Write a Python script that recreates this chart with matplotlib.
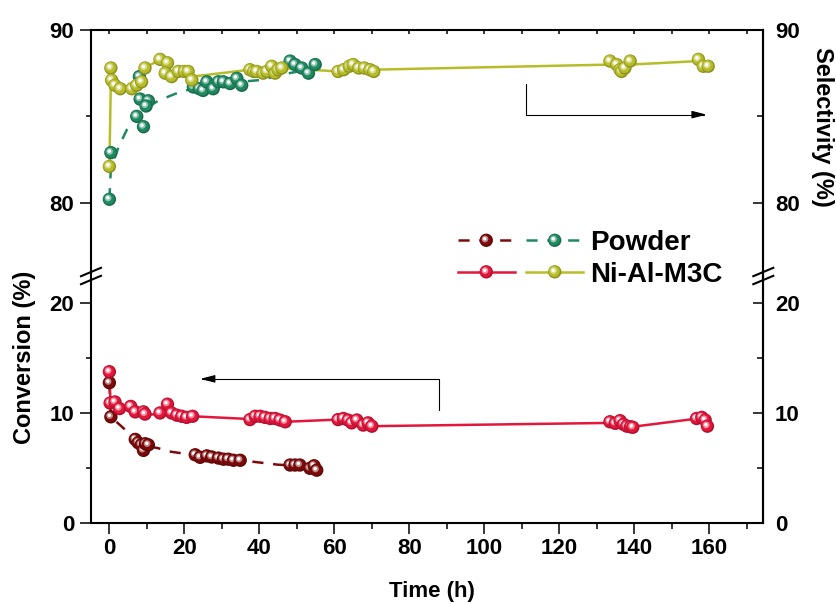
import numpy as np
import matplotlib
matplotlib.use('Agg')
import matplotlib.pyplot as plt
from matplotlib.patheffects import AbstractPathEffect
from matplotlib.transforms import Affine2D
from matplotlib.lines import Line2D
from matplotlib.legend_handler import HandlerTuple
from matplotlib.colors import to_rgb

plt.rcParams['font.family'] = ['Liberation Sans', 'DejaVu Sans']
plt.rcParams['font.weight'] = 'bold'
plt.rcParams['lines.scale_dashes'] = False

# ---------------- data ----------------
# Ni-Al-M3C selectivity (%)
nam_sel_t = [0, 0.4, 0.6, 1.5, 2.9, 6.0, 7.3, 8.6, 9.5, 13.5, 15.5, 14.9, 16.6, 18.4, 20.0, 21.0, 22.0,
             37.5, 38.5, 39.3, 41.0, 42.0, 43.3, 44.2, 45.0, 46.0,
             61.0, 62.5, 64.0, 65.0, 66.5, 68.0, 69.5, 70.5,
             133.5, 135.3, 136.2, 136.6, 137.5, 138.9, 157.1, 158.4, 159.7]
nam_sel_v = [82.1, 87.8, 87.1, 86.8, 86.6, 86.6, 86.8, 87.0, 87.8, 88.3, 88.1, 87.5, 87.3, 87.6, 87.6, 87.6, 87.1,
             87.7, 87.6, 87.6, 87.5, 87.6, 87.9, 87.5, 87.7, 87.8,
             87.6, 87.7, 87.9, 88.0, 87.8, 87.8, 87.7, 87.6,
             88.2, 88.0, 87.7, 87.6, 87.8, 88.2, 88.3, 87.9, 87.9]
nam_sel_line_t = [0, 0.4, 2.9, 6.0, 8.6, 9.5, 13.5, 15.5, 16.6, 21, 22, 37.5, 46, 61, 70, 134, 139, 157, 160]
nam_sel_line_v = [82.1, 87.1, 86.6, 86.6, 87.0, 87.8, 88.3, 88.1, 87.5, 87.6, 87.3, 87.7, 87.8, 87.6, 87.7,
                  88.0, 88.0, 88.2, 88.0]

# Powder selectivity (%)
pow_sel_t = [0, 0.4, 7.3, 9.1, 8.2, 10.4, 9.8, 8.0, 22.4, 24.0, 25.0, 26.0, 27.7, 29.1, 30.4, 32.2, 34.0, 35.3,
             48.2, 49.5, 51.3, 53.1, 54.9]
pow_sel_v = [80.2, 82.9, 85.0, 84.4, 86.0, 85.9, 85.6, 87.3, 86.7, 86.6, 86.5, 87.0, 86.6, 87.0, 87.0, 86.9,
             87.2, 86.8, 88.2, 88.0, 87.8, 87.5, 88.0]
pow_sel_line_t = [0, 0.4, 2.4, 4.6, 7, 10, 13, 17.5, 22, 28, 35, 40, 48, 55]
pow_sel_line_v = [80.2, 82.0, 83.2, 84.2, 84.9, 85.5, 85.9, 86.3, 86.6, 86.8, 87.0, 87.1, 87.5, 87.8]

# Ni-Al-M3C conversion (%)
nam_conv_t = [0, 0.2, 1.5, 2.7, 5.7, 6.9, 9.1, 9.5, 13.5, 15.5, 16.6, 18.0, 19.3, 20.6, 22.2,
              37.5, 38.9, 40.2, 41.5, 42.9, 44.2, 45.5, 46.9,
              61.0, 62.4, 63.7, 64.6, 66.0, 67.7, 69.0, 70.0,
              133.5, 134.9, 136.2, 137.1, 138.0, 139.0, 139.6, 156.6, 158.0, 158.9, 159.5]
nam_conv_v = [13.75, 10.9, 11.0, 10.4, 10.6, 10.1, 10.1, 9.9, 10.0, 10.8, 10.0, 9.8, 9.7, 9.6, 9.7,
              9.4, 9.7, 9.7, 9.6, 9.5, 9.5, 9.36, 9.2,
              9.4, 9.5, 9.35, 9.1, 9.36, 8.9, 9.1, 8.8,
              9.2, 9.06, 9.3, 8.97, 8.8, 8.75, 8.7, 9.5, 9.6, 9.36, 8.8]
nam_conv_line_t = [0, 0.3, 2.7, 9.5, 22.2, 37.5, 46.9, 61, 70, 134, 139.6, 157, 160]
nam_conv_line_v = [13.75, 10.9, 10.4, 9.9, 9.7, 9.45, 9.2, 9.4, 8.8, 9.1, 8.75, 9.5, 8.8]

# Powder conversion (%)
pow_conv_t = [0, 0.4, 6.9, 7.7, 8.5, 9.1, 9.6, 10.4, 22.9, 24.2, 26.0, 27.3, 29.1, 30.4, 31.7, 33.1, 34.9,
              48.2, 49.5, 50.8, 53.5, 54.6, 55.3]
pow_conv_v = [12.75, 9.65, 7.6, 7.3, 7.1, 6.6, 7.2, 7.1, 6.2, 5.97, 6.1, 6.0, 5.9, 5.8, 5.8, 5.7, 5.7,
              5.27, 5.27, 5.27, 4.97, 5.2, 4.8]
pow_conv_line_t = [0, 0.4, 3.5, 7, 10, 13, 16, 20, 25, 30, 35, 40, 45, 50, 55]
pow_conv_line_v = [12.75, 9.65, 8.7, 7.6, 7.0, 6.8, 6.5, 6.3, 6.1, 5.9, 5.7, 5.5, 5.3, 5.2, 5.0]

x_ticks = [0, 20, 40, 60, 80, 100, 120, 140, 160]
legend_labels = ['Powder', 'Ni-Al-M3C']

# ---------------- style ----------------
C_DR = '#7d0a0a'
C_GR = '#1f8a62'
C_RD = '#e3163c'
C_YG = '#b6bd28'


class Sphere(AbstractPathEffect):
    """Draw markers as shaded balls with a highlight."""
    def __init__(self, color):
        super().__init__()
        c = np.array(to_rgb(color))
        self.layers = [
            (1.0, 0.0, 0.0, tuple(c * 0.78)),
            (0.84, -0.35, 0.35, tuple(c)),
            (0.5, -0.9, 0.9, tuple(c + (1 - c) * 0.5)),
            (0.26, -1.1, 1.1, (1.0, 1.0, 1.0)),
        ]

    def draw_path(self, renderer, gc, tpath, affine, rgbFace=None):
        if rgbFace is None:
            renderer.draw_path(gc, tpath, affine, rgbFace)
            return
        cx, cy = affine.transform((0.0, 0.0))
        px = renderer.points_to_pixels(1.0)
        gc0 = renderer.new_gc()
        gc0.copy_properties(gc)
        gc0.set_linewidth(0)
        for s, dx, dy, col in self.layers:
            aff = affine + Affine2D().translate(-cx, -cy).scale(s).translate(cx + dx * px, cy + dy * px)
            renderer.draw_path(gc0, tpath, aff, col)
        gc0.restore()


W, H = 837, 604
fig = plt.figure(figsize=(W / 100, H / 100), dpi=100)
L, R = 91 / W, 763.3 / W
yb0 = 1 - 523 / H
ybrk = 1 - 277 / H
yt1 = 1 - 30 / H
axb = fig.add_axes([L, yb0, R - L, ybrk - yb0])
axt = fig.add_axes([L, ybrk, R - L, yt1 - ybrk])

XLIM = (-4.9, 174.4)
for a in (axb, axt):
    a.set_xlim(*XLIM)
    for s in a.spines.values():
        s.set_linewidth(1.5)
axb.set_ylim(0, 22.36)
axt.set_ylim(75.7, 90)
axb.spines['top'].set_visible(False)
axt.spines['bottom'].set_visible(False)

MS = 9.6
DASH = (0, (8, 7))


def series(ax, lt, lv, pt, pv, color, ls):
    ax.plot(lt, lv, color=color, lw=1.8, ls=ls, zorder=2)
    ax.plot(pt, pv, ls='none', marker='o', ms=MS, color=color, mec='none',
            path_effects=[Sphere(color)], zorder=3)


series(axb, pow_conv_line_t, pow_conv_line_v, pow_conv_t, pow_conv_v, C_DR, DASH)
series(axb, nam_conv_line_t, nam_conv_line_v, nam_conv_t, nam_conv_v, C_RD, '-')
series(axt, pow_sel_line_t, pow_sel_line_v, pow_sel_t, pow_sel_v, C_GR, DASH)
series(axt, nam_sel_line_t, nam_sel_line_v, nam_sel_t, nam_sel_v, C_YG, '-')

TICK_FS = 16
# bottom axis ticks
axb.xaxis.tick_bottom()
axb.set_xticks(x_ticks)
axb.set_xticks([10, 30, 50, 70, 90, 110, 130, 150, 170], minor=True)
axb.tick_params(axis='x', which='major', direction='out', length=7.7, width=1.1, labelsize=TICK_FS, pad=3)
axb.tick_params(axis='x', which='minor', direction='out', length=4.3, width=1.1)
axb.set_yticks([0, 10, 20])
axb.set_yticks([5, 15], minor=True)
axt.set_yticks([80, 90])
axt.set_yticks([85], minor=True)
for a in (axb, axt):
    a.yaxis.tick_left()
    a.tick_params(axis='y', which='major', direction='out', length=8, width=1.1, labelsize=TICK_FS, pad=4)
    a.tick_params(axis='y', which='minor', direction='out', length=3.6, width=1.1)

# top axis ticks (inward, no labels)
axt.xaxis.tick_top()
axt.set_xticks(np.arange(0, 171, 10))
axt.tick_params(axis='x', which='major', direction='in', length=3, width=1.1, labeltop=False)

# right axes
for a, lim in ((axb, (0, 22.36)), (axt, (75.7, 90))):
    t = a.twinx()
    t.set_ylim(*lim)
    t.set_yticks(a.get_yticks())
    t.set_yticks(a.get_yticks(minor=True), minor=True)
    t.tick_params(axis='y', which='major', direction='in', length=7.2, width=1.1, labelsize=TICK_FS, pad=8.4)
    t.tick_params(axis='y', which='minor', direction='in', length=4, width=1.1)
    for k, s in t.spines.items():
        s.set_visible(k == 'right')
        s.set_linewidth(1.5)

# axis labels
fig.text(432 / W, 1 - 592 / H, 'Time (h)', ha='center', va='center', fontsize=16, fontweight='bold')
fig.text(25 / W, 1 - 357 / H, 'Conversion (%)', ha='center', va='center', rotation=90,
         fontsize=17, fontweight='bold')
fig.text(823 / W, 1 - 127 / H, 'Selectivity (%)', ha='center', va='center', rotation=270,
         fontsize=17, fontweight='bold')

# axis break marks
for xs in (91, 763.3):
    for yc in (272, 280):
        fig.add_artist(Line2D([(xs - 10) / W, (xs + 10) / W], [1 - (yc + 4.2) / H, 1 - (yc - 4.2) / H],
                              transform=fig.transFigure, color='k', lw=1.5))

# arrows
axb.annotate('', xy=(24.2, 13.1), xytext=(87.8, 10.3),
             arrowprops=dict(arrowstyle='-|>,head_length=0.9,head_width=0.23', color='k', lw=0.8,
                             shrinkA=0, shrinkB=0, mutation_scale=10,
                             connectionstyle='angle,angleA=90,angleB=0,rad=0'))
axt.annotate('', xy=(159.3, 85.1), xytext=(111.0, 86.9),
             arrowprops=dict(arrowstyle='-|>,head_length=0.9,head_width=0.23', color='k', lw=0.8,
                             shrinkA=0, shrinkB=0, mutation_scale=10,
                             connectionstyle='angle,angleA=90,angleB=0,rad=0'))

# legend
def proxy(color, ls):
    return Line2D([], [], color=color, ls=ls, lw=1.8, marker='o', ms=MS, mec='none',
                  path_effects=[Sphere(color)])

handles = [(proxy(C_DR, DASH), proxy(C_GR, DASH)), (proxy(C_RD, '-'), proxy(C_YG, '-'))]
fig.legend(handles, legend_labels, handler_map={tuple: HandlerTuple(ndivide=None, pad=0.43)},
           loc='upper left', bbox_to_anchor=(458 / W, 1 - 230 / H), frameon=False,
           prop=dict(size=20, weight='bold'), handlelength=4.5, handletextpad=0.25,
           borderpad=0, borderaxespad=0, labelspacing=0.2, numpoints=1)

fig.savefig('out.png', dpi=100)
